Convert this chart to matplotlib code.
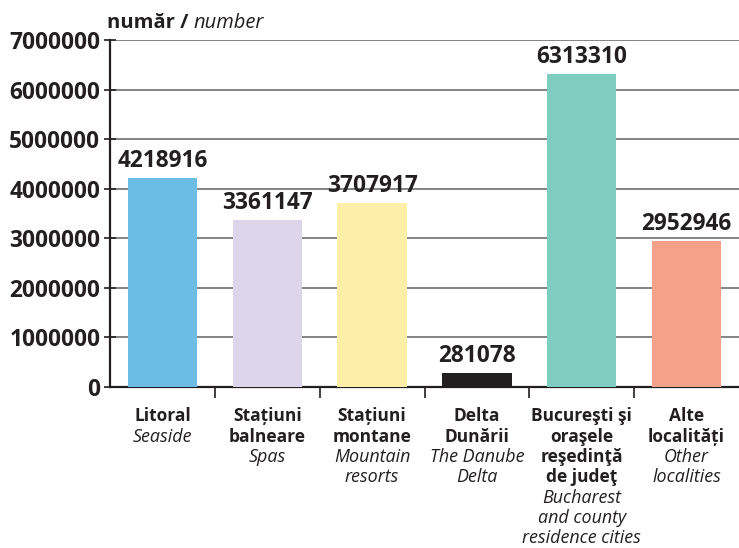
import matplotlib

matplotlib.use("Agg")
import matplotlib.pyplot as plt
import matplotlib.transforms as mtransforms

# data
cats_ro = [["Litoral"], ["Stațiuni", "balneare"], ["Stațiuni", "montane"], ["Delta", "Dunării"],
           ["Bucureşti şi", "oraşele", "reşedinţă", "de judeţ"], ["Alte", "localități"]]
cats_en = [["Seaside"], ["Spas"], ["Mountain", "resorts"], ["The Danube", "Delta"],
           ["Bucharest", "and county", "residence cities"], ["Other", "localities"]]
values = [4218916, 3361147, 3707917, 281078, 6313310, 2952946]
colors = ["#6bbde6", "#ddd6ea", "#feefa8", "#231f20", "#7ecdc0", "#f5a088"]
yticks = [0, 1000000, 2000000, 3000000, 4000000, 5000000, 6000000, 7000000]

INK = "#231f20"
plt.rcParams["font.family"] = ["Open Sans", "DejaVu Sans"]

fig = plt.figure(figsize=(7.39, 5.48), dpi=100)
ax = fig.add_axes([110 / 739, 161 / 548, 629 / 739, 347 / 548])

x = range(len(values))
ax.bar(x, values, width=0.66, color=colors, zorder=3)
ax.set_xlim(-0.5, 5.5)
ax.set_ylim(0, 7000000)

ax.set_yticks(yticks)
ax.set_yticklabels([str(v) for v in yticks], fontsize=16.3, fontweight="bold", color=INK)
ax.grid(axis="y", color="#6d6e70", lw=1.2, zorder=0)
ax.tick_params(axis="y", direction="inout", length=8, width=1.2, color=INK, pad=3)

ax.set_xticks([i + 0.5 for i in range(len(values) - 1)])
ax.set_xticklabels([])
ax.tick_params(axis="x", direction="out", length=8, width=1.2, color=INK)

for s in ("top", "right"):
    ax.spines[s].set_visible(False)
for s in ("left", "bottom"):
    ax.spines[s].set_color(INK)
    ax.spines[s].set_linewidth(1.6)

for i, v in enumerate(values):
    ax.annotate(str(v), (i, v), xytext=(0, 8), textcoords="offset points",
                ha="center", va="baseline", fontsize=16.3, fontweight="bold", color=INK)

# category labels, one line at a time: bold Romanian, then italic English
trans = mtransforms.blended_transform_factory(ax.transData, ax.transAxes)
first = -21.2   # points below the axis
step = 14.6     # points per line
for i, (ro, en) in enumerate(zip(cats_ro, cats_en)):
    lines = [(t, "bold") for t in ro] + [(t, "italic") for t in en]
    for k, (t, style) in enumerate(lines):
        kw = {"fontweight": "bold"} if style == "bold" else {"fontstyle": "italic"}
        ax.annotate(t, (i, 0), xycoords=trans, xytext=(0, first - k * step),
                    textcoords="offset points", ha="center", va="center",
                    fontsize=12.5 if style == "bold" else 12.9, color=INK, **kw)

t1 = fig.text(107 / 739, 1 - 28 / 548, "număr / ", fontsize=14.5, fontweight="bold",
              color=INK, va="baseline", ha="left")
fig.canvas.draw()
bb = t1.get_window_extent()
fig.text(bb.x1 / fig.bbox.width, 1 - 28 / 548, "number", fontsize=14.5, fontstyle="italic",
         color=INK, va="baseline", ha="left")

fig.savefig("out.png", dpi=100)
